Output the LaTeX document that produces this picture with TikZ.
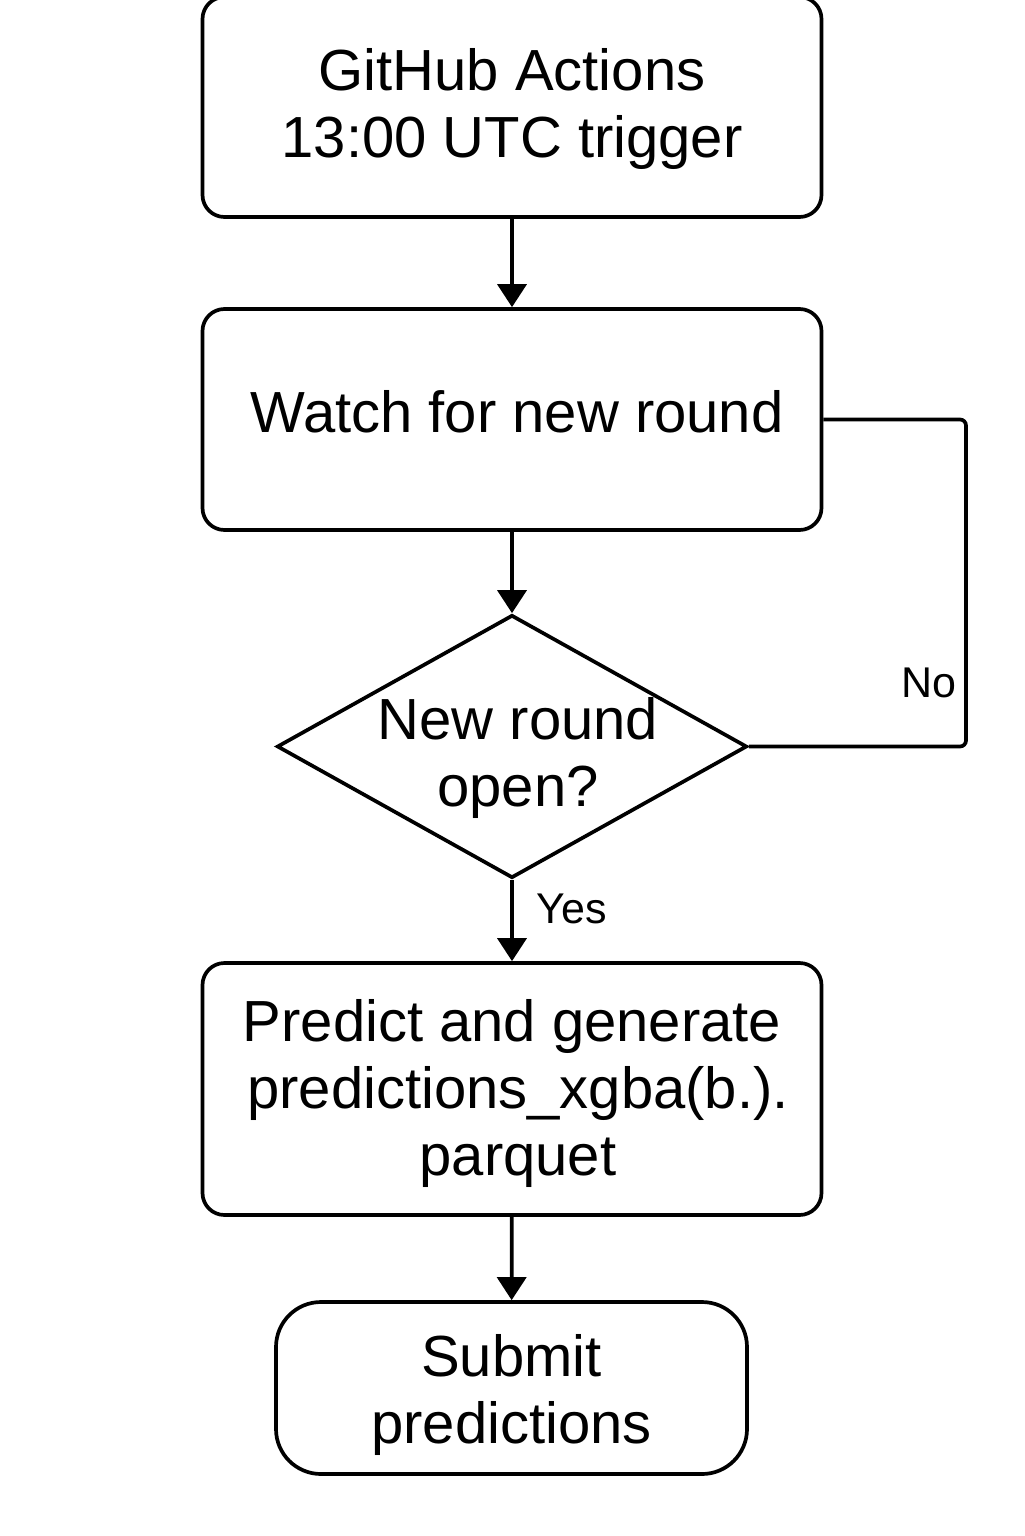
\documentclass[tikz,border=0pt]{standalone}
\usepackage{fontspec}
\setmainfont{Liberation Sans}
\usetikzlibrary{shapes.geometric,arrows.meta}
\newcommand{\boxlines}[3]{\raisebox{#1}[0pt][0pt]{\makebox[0pt]{\hspace*{#2}\begin{tabular}[t]{@{}c@{}}#3\end{tabular}}}}
\begin{document}
\begin{tikzpicture}[x=0.5pt,y=-0.5pt,line width=1.85pt,
  txt/.style={font=\fontsize{29}{33.5}\selectfont},
  lbl/.style={font=\fontsize{21.5}{25}\selectfont,inner sep=0pt},
  proc/.style={draw,rectangle,rounded corners=11pt,minimum width=309.5pt,inner sep=0pt,txt},
  term/.style={draw,rectangle,rounded corners=22.5pt,minimum width=235.5pt,minimum height=86pt,inner sep=0pt,txt},
  decide/.style={draw,diamond,minimum width=235pt,minimum height=131.5pt,inner sep=0pt,txt},
  arr/.style={-{Triangle[length=11.5pt,width=14.5pt]}}]
\useasboundingbox (0,0) rectangle (1024,1536);
\fill[white] (0,0) rectangle (1024,1536);

\node[proc,minimum height=110pt] (b1) at (512,107) {\boxlines{8.5pt}{0pt}{GitHub Actions\\13:00 UTC trigger}};
\node[proc,minimum height=110.5pt] (b2) at (512,419.5) {\boxlines{-6.25pt}{5pt}{Watch for new round}};
\node[decide] (d) at (512,746.5) {\boxlines{3.75pt}{6pt}{New round\\open?}};
\node[proc,minimum height=126pt] (b3) at (512,1089) {\boxlines{24pt}{0pt}{Predict and generate\\\hspace*{6pt}predictions\_xgba(b.).\\\hspace*{6pt}parquet}};
\node[term] (b4) at (511.5,1388) {\boxlines{6pt}{0pt}{Submit\\predictions}};

\draw[arr] (b1) -- (b2);
\draw[arr] (b2) -- (d);
\draw[arr] (d) -- (b3);
\draw[arr] (b3) -- (b4);

\coordinate (c1) at (966,746.5);
\coordinate (c2) at (966,419.5);
\draw[rounded corners=3pt] (d.east) -- (c1) -- (c2) -- (b2.east);

\node[lbl,anchor=base east] (no) at (958,697) {No};
\node[lbl,anchor=base west] (yes) at (535,923) {Yes};
\end{tikzpicture}
\end{document}
